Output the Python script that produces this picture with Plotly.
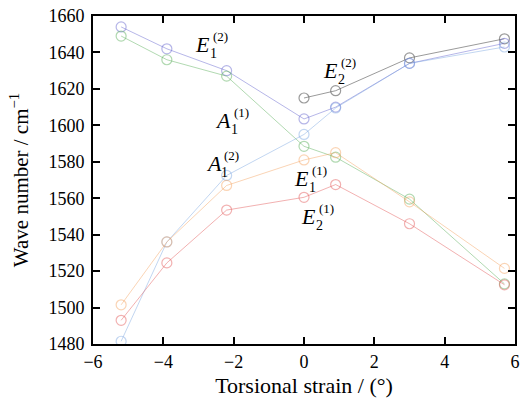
import plotly.graph_objects as go

# Torsional strain (degrees) at which the modes were computed
strain = [-5.2, -3.9, -2.2, 0.0, 0.9, 3.0, 5.7]

# Wave numbers (cm^-1) of each vibrational mode
e1_2 = [1654, 1642, 1630, 1603.5, 1610, 1634, 1645]
e2_2 = [None, None, None, 1615, 1619, 1637, 1647.5]
a1_1 = [1649, 1636, 1627, 1588.5, 1582.5, 1559.5, 1513]
a1_2 = [1481.5, 1536, 1572.5, 1595, 1609.5, 1634, 1643]
e1_1 = [1501.5, 1536, 1567, 1581, 1585, 1558, 1521.5]
e2_1 = [1493, 1524.5, 1553.5, 1560.5, 1567.5, 1546, 1512.5]

series = [
    ("E2(2)", e2_2, "rgba(100,100,100,0.65)"),
    ("E1(2)", e1_2, "rgba(110,110,210,0.50)"),
    ("A1(1)", a1_1, "rgba(100,180,100,0.50)"),
    ("A1(2)", a1_2, "rgba(120,165,225,0.45)"),
    ("E1(1)", e1_1, "rgba(245,160,90,0.45)"),
    ("E2(1)", e2_1, "rgba(230,100,100,0.50)"),
]

fig = go.Figure()
for name, vals, col in series:
    fig.add_trace(go.Scatter(
        x=strain, y=vals, name=name, mode="lines+markers",
        line=dict(color=col, width=1),
        marker=dict(symbol="circle-open", size=10, color=col,
                    line=dict(width=1.2, color=col)),
        showlegend=False,
    ))

serif = "Liberation Serif"

# Mode labels: (letter, subscript, superscript, x, y)
labels = [
    ("E", "1", "(2)", -2.89, 1644.1),
    ("A", "1", "(1)", -2.29, 1602.7),
    ("E", "2", "(2)", 0.74, 1630.3),
    ("A", "1", "(2)", -2.57, 1578.9),
    ("E", "1", "(1)", -0.08, 1570.8),
    ("E", "2", "(1)", 0.12, 1549.7),
]
for base, sub, sup, lx, ly in labels:
    fig.add_annotation(x=lx, y=ly, text="<i>%s</i>" % base, showarrow=False,
                       xanchor="center", yanchor="middle",
                       font=dict(family=serif, size=22, color="black"))
    fig.add_annotation(x=lx, y=ly, text=sub, showarrow=False,
                       xanchor="center", yanchor="middle", xshift=11, yshift=-9,
                       font=dict(family=serif, size=14, color="black"))
    fig.add_annotation(x=lx, y=ly, text=sup, showarrow=False,
                       xanchor="center", yanchor="middle", xshift=18, yshift=8,
                       font=dict(family=serif, size=13, color="black"))

axis_common = dict(
    showline=True, linewidth=2, linecolor="black", mirror="ticks",
    ticks="inside", ticklen=7, tickwidth=2, tickcolor="black",
    showgrid=False, zeroline=False,
    tickfont=dict(family=serif, size=18, color="black"),
)

fig.update_xaxes(range=[-6, 6], tickvals=[-6, -4, -2, 0, 2, 4, 6],
                 title=dict(text="Torsional strain / (°)",
                            font=dict(family=serif, size=22, color="black"),
                            standoff=7),
                 **axis_common)
fig.update_yaxes(range=[1480, 1660], tickvals=list(range(1480, 1661, 20)),
                 ticklabelstandoff=3,
                 title=dict(text="Wave number / cm<sup>−1</sup>",
                            font=dict(family=serif, size=21, color="black"),
                            standoff=14),
                 **axis_common)

fig.update_layout(
    width=526, height=403,
    margin=dict(l=93, r=6, t=11, b=59),
    paper_bgcolor="white", plot_bgcolor="white",
)

fig.write_html("out.html")
